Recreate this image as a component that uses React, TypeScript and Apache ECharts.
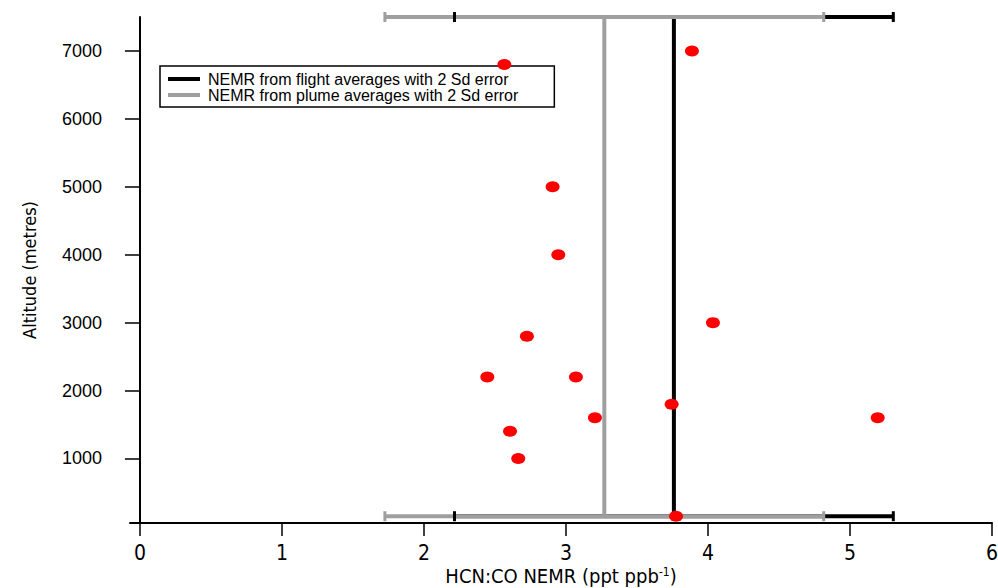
import React, { useEffect, useRef } from 'react';
import * as echarts from 'echarts';

const xTicks = [0, 1, 2, 3, 4, 5, 6];
const yTicks = [1000, 2000, 3000, 4000, 5000, 6000, 7000];

const nemrValues = [2.566, 3.887, 2.906, 2.946, 4.035, 2.725, 2.446, 3.07, 3.204, 3.744, 5.195, 2.606, 2.664, 3.775];
const altitudes = [6800, 7000, 5000, 4000, 3000, 2800, 2200, 2200, 1600, 1800, 1600, 1400, 1000, 150];

const averageNames = ['NEMR from flight averages with 2 Sd error', 'NEMR from plume averages with 2 Sd error'];
const averageValues = [3.76, 3.27];
const averageErrors = [1.545, 1.545];
const averageColors = ['#000000', '#9f9f9f'];
const barAltitudes = [150, 7500];

const NARROW = "'DejaVu Sans Condensed', 'Liberation Sans Narrow', sans-serif";
const SANS = "'Liberation Sans', Arial, sans-serif";

export default function App() {
  const ref = useRef<HTMLDivElement>(null);
  useEffect(() => {
    if (!ref.current) return;
    const chart = echarts.init(ref.current, undefined, { renderer: 'svg' });
    const series: any[] = [];
    averageNames.forEach((name, i) => {
      const m = averageValues[i];
      const e = averageErrors[i];
      const color = averageColors[i];
      series.push({
        type: 'line',
        name,
        data: [[m, barAltitudes[0]], [m, barAltitudes[1]]],
        showSymbol: false,
        symbol: 'none',
        lineStyle: { color, width: 4 },
        itemStyle: { color },
        clip: false,
        silent: true,
      });
      barAltitudes.forEach((alt) => {
        series.push({
          type: 'line',
          name,
          data: [[m - e, alt], [m + e, alt]],
          symbol: 'rect',
          symbolSize: [3, 10],
          showSymbol: true,
          lineStyle: { color, width: 4 },
          itemStyle: { color },
          clip: false,
          silent: true,
        });
      });
    });
    series.push({
      type: 'scatter',
      name: 'points',
      data: nemrValues.map((v, i) => [v, altitudes[i]]),
      symbol: 'circle',
      symbolSize: [14, 11],
      itemStyle: { color: '#ff0000', opacity: 1 },
      clip: false,
      z: 5,
    });

    chart.setOption({
      animation: false,
      backgroundColor: '#ffffff',
      grid: { left: 130, right: 6, top: 17, bottom: 65, outerBoundsMode: 'none' },
      legend: {
        orient: 'vertical',
        left: 160,
        top: 66,
        data: averageNames.map((n) => ({ name: n, icon: 'rect' })),
        itemWidth: 32,
        itemHeight: 4,
        itemGap: 0,
        padding: [5, 36, 4, 8],
        borderColor: '#000',
        borderWidth: 1.5,
        backgroundColor: '#fff',
        selectedMode: false,
        textStyle: { fontFamily: SANS, fontSize: 16, lineHeight: 16, color: '#000', padding: [0, 0, 0, 3] },
      },
      xAxis: {
        type: 'value',
        min: -0.07,
        max: 6,
        name: 'HCN:CO NEMR (ppt ppb{sup|-1})',
        nameLocation: 'middle',
        nameGap: 43,
        nameMoveOverlap: false,
        nameTextStyle: {
          fontFamily: NARROW,
          fontSize: 20,
          lineHeight: 20,
          color: '#000',
          rich: { sup: { fontFamily: NARROW, fontSize: 12, color: '#000', verticalAlign: 'top', lineHeight: 12 } },
        },
        axisLine: { show: true, lineStyle: { color: '#000', width: 2 } },
        axisTick: { show: true, customValues: xTicks, length: 13, lineStyle: { color: '#000', width: 1.5 } },
        axisLabel: { customValues: xTicks, margin: 19, fontFamily: NARROW, fontSize: 21, color: '#000' },
        splitLine: { show: false },
      },
      yAxis: {
        type: 'value',
        min: 50,
        max: 7500,
        name: 'Altitude (metres)',
        nameLocation: 'middle',
        nameRotate: 90,
        nameGap: 92,
        nameMoveOverlap: false,
        nameTextStyle: { fontFamily: NARROW, fontSize: 18, color: '#000' },
        axisLine: { show: true, lineStyle: { color: '#000', width: 2 } },
        axisTick: { show: true, customValues: yTicks, length: 15, lineStyle: { color: '#000', width: 1.5 } },
        axisLabel: {
          customValues: yTicks,
          margin: 28,
          fontFamily: SANS,
          fontSize: 18,
          color: '#000',
          formatter: (v: number) => String(v),
        },
        splitLine: { show: false },
      },
      series,
    });
    return () => chart.dispose();
  }, []);
  return <div ref={ref} style={{ position: 'fixed', left: 0, top: 0, width: 998, height: 588 }} />;
}
